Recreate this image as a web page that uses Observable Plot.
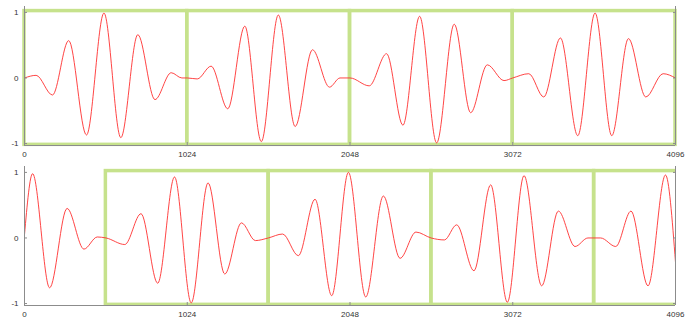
<!DOCTYPE html>
<html>
<head>
<meta charset="utf-8">
<script src="https://cdn.jsdelivr.net/npm/d3@7"></script>
<script src="https://cdn.jsdelivr.net/npm/@observablehq/plot@0.6"></script>
<style>
  html, body { margin: 0; padding: 0; background: #fff; }
  #chart svg { display: block; }
</style>
</head>
<body>
<div id="chart"></div>
<script>
// ---- data ----
const xTicks = [0, 1024, 2048, 3072, 4096];
const yTicks = [-1, 0, 1];
const windowLength = 1024;
const boxLevel = 1.02;

// top panel: window starts and signal extrema
const topWindows = [0, 1024, 2048, 3072];
const topX = [0, 73, 176, 278, 390, 500, 606, 713, 821, 923, 990, 1024,
  1087, 1174, 1279, 1386, 1490, 1597, 1703, 1812, 1919, 1985, 2048,
  2169, 2278, 2381, 2486, 2593, 2704, 2807, 2912, 3017, 3072,
  3173, 3267, 3372, 3481, 3590, 3695, 3800, 3909, 4018, 4096];
const topY = [0, 0.04, -0.26, 0.57, -0.87, 0.99, -0.91, 0.66, -0.33, 0.08, 0, 0,
  -0.015, 0.18, -0.47, 0.79, -0.97, 0.96, -0.74, 0.43, -0.14, 0, 0,
  -0.12, 0.37, -0.72, 0.94, -0.99, 0.82, -0.53, 0.20, -0.04, 0,
  0.065, -0.29, 0.61, -0.88, 0.99, -0.88, 0.60, -0.29, 0.065, 0];

// bottom panel: window starts and signal extrema
const bottomWindows = [512, 1536, 2560, 3584];
const bottomX = [0, 51, 158, 268, 374, 458, 513, 631, 733, 838, 944, 1049, 1155, 1260, 1365, 1453, 1534,
  1624, 1723, 1828, 1933, 2038, 2147, 2258, 2363, 2463, 2558,
  2642, 2719, 2828, 2933, 3038, 3143, 3254, 3359, 3464, 3545, 3625,
  3720, 3816, 3923, 4033, 4096];
const bottomY = [0.05, 0.98, -0.76, 0.45, -0.17, 0.015, 0, -0.10, 0.37, -0.69, 0.93, -0.99, 0.84, -0.55, 0.23, -0.04, 0,
  0.06, -0.27, 0.59, -0.88, 1.0, -0.90, 0.64, -0.31, 0.09, 0,
  -0.03, 0.20, -0.50, 0.81, -0.98, 0.95, -0.73, 0.41, -0.13, 0, 0,
  -0.13, 0.41, -0.73, 0.96, -0.37];

const xDomain = [0, 4096];
const yDomain = [-1.03, 1.09];

function panel(xs, ys, windows, clip) {
  const pts = xs.map((x, i) => ({x, y: ys[i]}));
  const boxes = windows.map(s => ({x1: s, x2: s + windowLength}));
  const axisColor = "#8c8c8c";
  const font = {fontSize: 8, fill: "#333", tickFormat: d => String(d)};
  const blank = {tickFormat: () => "", stroke: axisColor};
  return Plot.plot({
    width: 700,
    height: 160,
    marginLeft: 24,
    marginRight: 25,
    marginTop: 6,
    marginBottom: 15,
    style: {fontFamily: "'Liberation Sans', Arial, sans-serif", background: "#fff"},
    x: {domain: xDomain, axis: null},
    y: {domain: yDomain, axis: null},
    marks: [
      Plot.rect(boxes, {x1: "x1", x2: "x2", y1: () => -boxLevel, y2: () => boxLevel,
        fill: "none", stroke: "#c6e28c", strokeWidth: 3.5, clip}),
      Plot.line(pts, {x: "x", y: "y", curve: "monotone-x", stroke: "#ff3030", strokeWidth: 0.9}),
      Plot.ruleX(xDomain, {stroke: axisColor, strokeWidth: 1}),
      Plot.ruleY([yDomain[0]], {stroke: axisColor, strokeWidth: 1}),
      Plot.axisY(yTicks, {anchor: "left", label: null, tickSize: 0, tickPadding: 6, ...font}),
      Plot.axisY(yTicks, {anchor: "left", label: null, tickSize: -3, ...blank}),
      Plot.axisY(yTicks, {anchor: "right", label: null, tickSize: -3, ...blank}),
      Plot.axisX(xTicks, {anchor: "bottom", label: null, tickSize: 0, tickPadding: 6, ...font}),
      Plot.axisX(xTicks, {anchor: "bottom", label: null, tickSize: -3, ...blank})
    ]
  });
}

const root = document.getElementById("chart");
root.append(panel(topX, topY, topWindows, false));
root.append(panel(bottomX, bottomY, bottomWindows, true));
</script>
</body>
</html>
